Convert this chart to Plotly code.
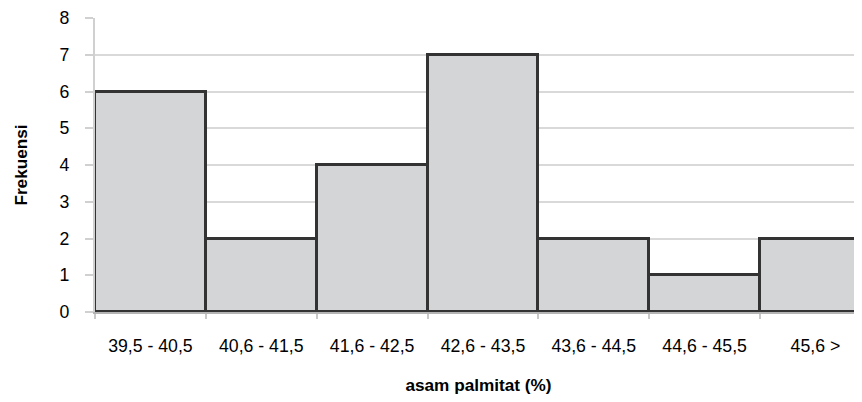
import plotly.graph_objects as go

categories = ["39,5 - 40,5", "40,6 - 41,5", "41,6 - 42,5", "42,6 - 43,5",
              "43,6 - 44,5", "44,6 - 45,5", "45,6 >"]
frekuensi = [6, 2, 4, 7, 2, 1, 2]
y_ticks = [0, 1, 2, 3, 4, 5, 6, 7, 8]

fig = go.Figure(go.Bar(
    x=categories, y=frekuensi,
    marker=dict(color="#d4d5d7", line=dict(color="#333333", width=3)),
))

# the page body has an 8px margin, so the figure is 8px smaller and offset
font = "Liberation Sans, Arial, sans-serif"
fig.update_layout(
    width=854, height=394,
    margin=dict(l=87, r=0, t=10, b=90),
    paper_bgcolor="white", plot_bgcolor="white",
    bargap=0, showlegend=False,
    font=dict(family=font, size=17.7, color="#000000"),
)
fig.update_xaxes(
    type="category",
    range=[-0.5, 6.42],
    tickson="boundaries",
    ticks="outside", ticklen=5, tickcolor="#c8c8c8", tickwidth=1.5,
    showline=True, linecolor="#b4b4b4", linewidth=2,
    showgrid=False,
    automargin=False,
    ticklabelstandoff=17,
    title=dict(text="<b>asam palmitat (%)</b>", standoff=24, font=dict(size=17.2)),
)
fig.update_yaxes(
    range=[0, 8],
    tickvals=y_ticks,
    ticks="outside", ticklen=8, tickcolor="#d0d0d0", tickwidth=2,
    showline=True, linecolor="#d0d0d0", linewidth=2,
    showgrid=True, gridcolor="#d9d9d9", gridwidth=2,
    zeroline=False,
    automargin=False,
    ticklabelstandoff=12,
    title=dict(text="<b>Frekuensi</b>", standoff=28, font=dict(size=17.2)),
)

fig.write_html("out.html")
